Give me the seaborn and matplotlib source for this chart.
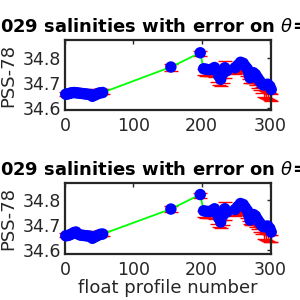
import matplotlib
matplotlib.use("Agg")
import matplotlib.pyplot as plt
import seaborn as sns
import pandas as pd

# ---------------- data ----------------
profile_no = [1, 4, 7, 10, 13, 16, 19, 22, 25, 28, 31, 34, 37, 40, 43, 46, 49, 52, 55,
              155, 198,
              203, 207, 211, 215, 219, 222, 225, 228, 231, 234, 237,
              249, 253, 257, 261, 264, 267, 269, 271, 273, 276, 279, 282, 285, 288,
              291, 294, 297, 300, 302]

sal_top = [34.656, 34.657, 34.660, 34.662, 34.663, 34.662, 34.661, 34.660, 34.659, 34.658,
           34.657, 34.656, 34.655, 34.648, 34.652, 34.656, 34.660, 34.662, 34.663,
           34.765, 34.822,
           34.758, 34.756, 34.754, 34.757, 34.763, 34.748, 34.730, 34.716, 34.738, 34.762, 34.750,
           34.762, 34.772, 34.784, 34.780, 34.768, 34.758, 34.740, 34.722, 34.730, 34.742,
           34.735, 34.722, 34.710, 34.698, 34.693, 34.695, 34.696, 34.688, 34.675]

map_top = [34.659, 34.660, 34.663, 34.665, 34.666, 34.665, 34.664, 34.663, 34.662, 34.661,
           34.660, 34.659, 34.658, 34.651, 34.655, 34.666, 34.666, 34.666, 34.666,
           34.764, 34.818,
           34.745, 34.742, 34.740, 34.742, 34.738, 34.720, 34.712, 34.705, 34.720, 34.755, 34.752,
           34.748, 34.750, 34.758, 34.760, 34.752, 34.740, 34.728, 34.715, 34.712, 34.712,
           34.705, 34.695, 34.685, 34.675, 34.660, 34.655, 34.652, 34.648, 34.645]

err_top = [0.008, 0.008, 0.008, 0.008, 0.008, 0.008, 0.008, 0.008, 0.008, 0.008,
           0.008, 0.008, 0.008, 0.008, 0.008, 0.010, 0.010, 0.010, 0.010,
           0.013, 0.010,
           0.012, 0.012, 0.012, 0.012, 0.012, 0.015, 0.018, 0.015, 0.020, 0.035, 0.010,
           0.010, 0.010, 0.012, 0.012, 0.012, 0.012, 0.012, 0.012, 0.012, 0.012,
           0.012, 0.012, 0.012, 0.012, 0.014, 0.014, 0.014, 0.014, 0.014]

sal_bot = [34.657, 34.658, 34.661, 34.665, 34.670, 34.672, 34.664, 34.660, 34.659, 34.658,
           34.657, 34.656, 34.655, 34.647, 34.652, 34.656, 34.660, 34.663, 34.664,
           34.764, 34.822,
           34.757, 34.755, 34.754, 34.758, 34.765, 34.748, 34.728, 34.712, 34.738, 34.765, 34.752,
           34.762, 34.774, 34.786, 34.782, 34.770, 34.758, 34.740, 34.720, 34.730, 34.742,
           34.736, 34.722, 34.710, 34.698, 34.693, 34.695, 34.696, 34.686, 34.672]

map_bot = [34.659, 34.660, 34.663, 34.666, 34.668, 34.668, 34.664, 34.663, 34.662, 34.661,
           34.660, 34.659, 34.658, 34.651, 34.655, 34.667, 34.667, 34.667, 34.667,
           34.765, 34.820,
           34.745, 34.742, 34.740, 34.742, 34.738, 34.720, 34.712, 34.705, 34.722, 34.757, 34.752,
           34.748, 34.750, 34.758, 34.760, 34.752, 34.740, 34.728, 34.715, 34.712, 34.712,
           34.705, 34.695, 34.685, 34.675, 34.660, 34.655, 34.652, 34.648, 34.645]

err_bot = err_top

title_text = "3901029 salinities with error on $\\theta$=3.123°C"
x_label = "float profile number"
y_label = "PSS-78"
x_ticks = [0, 100, 200, 300]
y_ticks = [34.6, 34.7, 34.8]

# ---------------- plot ----------------
sns.set_style("white")
plt.rcParams["font.family"] = ["DejaVu Sans"]

fig = plt.figure(figsize=(3, 3), dpi=100)
ax1 = fig.add_axes([0.217, 0.6333, 0.687, 0.2333])
ax2 = fig.add_axes([0.217, 0.1533, 0.687, 0.2357])

panels = [(ax1, sal_top, map_top, err_top, (34.593, 34.873)),
          (ax2, sal_bot, map_bot, err_bot, (34.584, 34.867))]

for ax, sal, mp, er, ylim in panels:
    df = pd.DataFrame({"profile": profile_no, "sal": sal, "map": mp, "err": er})
    eb = ax.errorbar(df["profile"], df["map"], yerr=df["err"], fmt="none",
                     ecolor="red", elinewidth=1.0, capsize=5, capthick=1.0, zorder=2)
    for art in eb.lines[1] + eb.lines[2]:
        art.set_clip_on(False)
    sns.lineplot(data=df, x="profile", y="sal", color="#00ff00", linewidth=1.3,
                 sort=False, estimator=None, ax=ax, zorder=3)
    sns.scatterplot(data=df, x="profile", y="sal", color="blue", s=68,
                    edgecolor="none", ax=ax, zorder=4, clip_on=False)
    ax.set_xlim(0, 302)
    ax.set_ylim(*ylim)
    ax.set_xticks(x_ticks)
    ax.set_yticks(y_ticks)
    ax.set_yticklabels([f"{v:.1f}" for v in y_ticks])
    for sp in ax.spines.values():
        sp.set_linewidth(1.6)
        sp.set_color("#262626")
        sp.set_visible(True)
    ax.tick_params(direction="in", length=3, width=1, top=True, right=True,
                   colors="#262626", labelsize=12.5)
    ax.tick_params(axis="y", pad=3)
    ax.tick_params(axis="x", pad=5)
    ax.set_ylabel(y_label, fontsize=13, color="#262626", labelpad=4)
    ax.set_xlabel("")
    ax.set_title(title_text, fontsize=13, fontweight="bold", color="black", pad=6)

ax2.set_xlabel(x_label, fontsize=13, color="#262626", labelpad=0)

fig.savefig("out.png", dpi=100)
